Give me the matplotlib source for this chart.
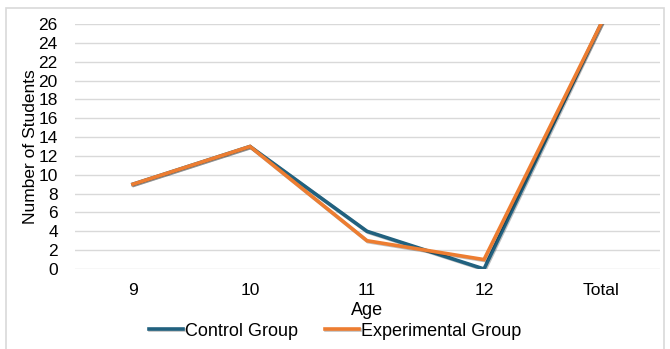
import matplotlib.pyplot as plt
from matplotlib.patches import Rectangle
import matplotlib.patheffects as pe

# dados
idades = ['9', '10', '11', '12', 'Total']
controle = [9, 13, 4, 0, 26]
experimental = [9, 13, 3, 1, 26]

plt.rcParams['font.family'] = ['Liberation Sans', 'DejaVu Sans']

fig = plt.figure(figsize=(6.7, 3.49), dpi=100)
ax = fig.add_axes([74.5 / 670, 1 - 269 / 349, 585 / 670, 245 / 349])

# borda da figura
fig.patches.append(Rectangle((6 / 670, -0.01), 658 / 670, 1 - 8 / 349 + 0.01,
                             transform=fig.transFigure, fill=False,
                             edgecolor='#d9d9d9', linewidth=1.2))

x = range(len(idades))
sombra = [pe.SimpleLineShadow(offset=(0.7, -0.7), alpha=0.25), pe.Normal()]
ax.plot(x, controle, color='#21617f', linewidth=2.6, label='Control Group',
        path_effects=sombra, solid_joinstyle='miter')
ax.plot(x, experimental, color='#ed7d31', linewidth=2.6, label='Experimental Group',
        path_effects=sombra, solid_joinstyle='miter')

ax.set_xlim(-0.5, 4.5)
ax.set_ylim(0, 26)
ax.set_yticks(range(0, 27, 2))
ax.set_xticks(list(x))
ax.set_xticklabels(idades)
ax.grid(axis='y', color='#d9d9d9', linewidth=1)
ax.set_axisbelow(True)
for s in ax.spines.values():
    s.set_visible(False)
ax.tick_params(length=0, labelsize=12.5, colors='#000000')
ax.tick_params(axis='y', pad=12)
ax.tick_params(axis='x', pad=10)

ax.set_xlabel('Age', fontsize=13, labelpad=3)
ax.set_ylabel('Number of Students', fontsize=12.5, labelpad=0)

fig.legend(*ax.get_legend_handles_labels(), loc='center',
           bbox_to_anchor=(0.5, 1 - 331 / 349), ncol=2, frameon=False,
           fontsize=13, handlelength=1.9, handletextpad=0.1, columnspacing=1.5,
           borderpad=0, borderaxespad=0)

fig.savefig('out.png', dpi=100)
